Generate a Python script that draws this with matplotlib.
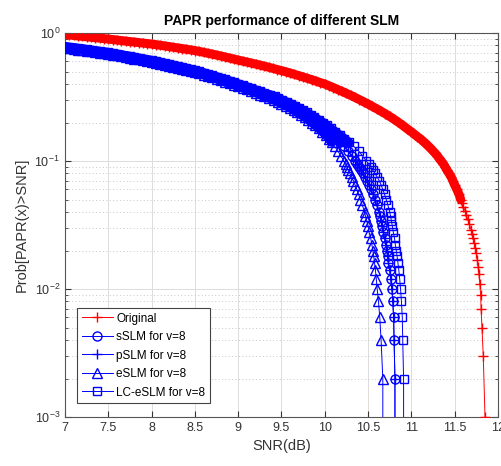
import matplotlib
matplotlib.use("Agg")
import matplotlib.pyplot as plt

plt.rcParams['font.family'] = ['Liberation Sans', 'DejaVu Sans']
plt.rcParams['mathtext.default'] = 'regular'

# CCDF curves (SNR in dB, probability)
# upper part of each curve is read at fixed SNR steps, the steep tail at fixed probabilities
red_grid = [7.0, 7.05, 7.1, 7.15, 7.2, 7.25, 7.3, 7.35, 7.4, 7.45,
            7.5, 7.55, 7.6, 7.65, 7.7, 7.75, 7.8, 7.85, 7.9, 7.95,
            8.0, 8.05, 8.1, 8.15, 8.2, 8.25, 8.3, 8.35, 8.4, 8.45,
            8.5, 8.55, 8.6, 8.65, 8.7, 8.75, 8.8, 8.85, 8.9, 8.95,
            9.0, 9.05, 9.1, 9.15, 9.2, 9.25, 9.3, 9.35, 9.4, 9.45,
            9.5, 9.55, 9.6, 9.65, 9.7, 9.75, 9.8, 9.85, 9.9, 9.95,
            10.0, 10.05, 10.1, 10.15, 10.2, 10.25, 10.3, 10.35, 10.4, 10.45,
            10.5, 10.55, 10.6, 10.65, 10.7, 10.75, 10.8, 10.85, 10.9, 10.95,
            11.0]
orig_head_p = [0.973, 0.966, 0.958, 0.950, 0.943, 0.935, 0.928, 0.920, 0.913, 0.905,
               0.898, 0.890, 0.882, 0.874, 0.866, 0.858, 0.851, 0.843, 0.836, 0.828,
               0.821, 0.812, 0.803, 0.794, 0.785, 0.775, 0.766, 0.757, 0.748, 0.739,
               0.730, 0.719, 0.708, 0.696, 0.685, 0.673, 0.662, 0.650, 0.638, 0.626,
               0.615, 0.604, 0.594, 0.583, 0.573, 0.562, 0.552, 0.541, 0.530, 0.519,
               0.509, 0.498, 0.487, 0.476, 0.465, 0.454, 0.443, 0.432, 0.421, 0.410,
               0.400, 0.387, 0.375, 0.362, 0.350, 0.338, 0.326, 0.314, 0.302, 0.290,
               0.279, 0.267, 0.256, 0.245, 0.234, 0.223, 0.212, 0.201, 0.190, 0.179,
               0.169]
orig_tail_snr = [11.02, 11.045, 11.07, 11.10, 11.125, 11.15, 11.175, 11.20, 11.225, 11.25,
                 11.275, 11.30, 11.32, 11.345, 11.37, 11.39, 11.41, 11.435, 11.46, 11.48,
                 11.50, 11.525, 11.55, 11.57, 11.585, 11.60, 11.62, 11.635, 11.65, 11.67,
                 11.69, 11.70, 11.715, 11.725, 11.74, 11.75, 11.76, 11.77, 11.78, 11.79,
                 11.80, 11.805, 11.815, 11.83, 11.85]
orig_tail_p = [0.165, 0.160, 0.155, 0.150, 0.145, 0.140, 0.135, 0.130, 0.125, 0.120,
               0.115, 0.110, 0.105, 0.100, 0.095, 0.090, 0.085, 0.080, 0.075, 0.070,
               0.065, 0.060, 0.055, 0.050, 0.047, 0.044, 0.041, 0.038, 0.035, 0.032,
               0.029, 0.027, 0.025, 0.023, 0.021, 0.019, 0.017, 0.015, 0.013, 0.011,
               0.009, 0.007, 0.005, 0.003, 0.001]

blue_grid = [7.0, 7.05, 7.1, 7.15, 7.2, 7.25, 7.3, 7.35, 7.4, 7.45,
             7.5, 7.55, 7.6, 7.65, 7.7, 7.75, 7.8, 7.85, 7.9, 7.95,
             8.0, 8.05, 8.1, 8.15, 8.2, 8.25, 8.3, 8.35, 8.4, 8.45,
             8.5, 8.55, 8.6, 8.65, 8.7, 8.75, 8.8, 8.85, 8.9, 8.95,
             9.0, 9.05, 9.1, 9.15, 9.2, 9.25, 9.3]

sslm_head_p = [0.777, 0.769, 0.761, 0.753, 0.745, 0.737, 0.729, 0.721, 0.713, 0.705,
               0.698, 0.688, 0.679, 0.669, 0.660, 0.650, 0.641, 0.631, 0.622, 0.613,
               0.604, 0.594, 0.584, 0.574, 0.564, 0.554, 0.544, 0.534, 0.524, 0.514,
               0.505, 0.494, 0.483, 0.471, 0.460, 0.448, 0.437, 0.426, 0.415, 0.404,
               0.393, 0.382, 0.372, 0.361, 0.351, 0.340, 0.330]
sslm_tail_snr = [9.37, 9.415, 9.46, 9.505, 9.55, 9.595, 9.64, 9.685, 9.73, 9.775,
                 9.82, 9.865, 9.91, 9.955, 10.00, 10.045, 10.09, 10.135, 10.18, 10.225,
                 10.27, 10.31, 10.35, 10.375, 10.40, 10.42, 10.44, 10.465, 10.49, 10.51,
                 10.535, 10.555, 10.58, 10.60, 10.625, 10.635, 10.65, 10.66, 10.675, 10.69,
                 10.705, 10.715, 10.725, 10.735, 10.75, 10.76, 10.775, 10.785, 10.795, 10.80,
                 10.81, 10.81]
sslm_tail_p = [0.32, 0.31, 0.30, 0.29, 0.28, 0.27, 0.26, 0.25, 0.24, 0.23,
               0.22, 0.21, 0.20, 0.19, 0.18, 0.17, 0.16, 0.15, 0.14, 0.13,
               0.12, 0.11, 0.10, 0.095, 0.09, 0.085, 0.08, 0.075, 0.07, 0.065,
               0.06, 0.055, 0.05, 0.045, 0.04, 0.037, 0.034, 0.031, 0.028, 0.025,
               0.022, 0.020, 0.018, 0.016, 0.014, 0.012, 0.010, 0.008, 0.006, 0.004,
               0.002, 0.0001]

eslm_head_p = [0.768, 0.760, 0.752, 0.744, 0.736, 0.728, 0.720, 0.712, 0.704, 0.696,
               0.689, 0.679, 0.670, 0.660, 0.651, 0.641, 0.632, 0.622, 0.613, 0.604,
               0.595, 0.585, 0.575, 0.565, 0.555, 0.545, 0.535, 0.525, 0.515, 0.505,
               0.496, 0.485, 0.474, 0.462, 0.451, 0.439, 0.428, 0.417, 0.406, 0.395,
               0.384, 0.373, 0.363, 0.352, 0.342, 0.331, 0.321]
eslm_tail_snr = [9.355, 9.41, 9.455, 9.50, 9.55, 9.60, 9.64, 9.68, 9.725, 9.77,
                 9.81, 9.85, 9.89, 9.93, 9.97, 10.01, 10.045, 10.08, 10.115, 10.15,
                 10.185, 10.22, 10.24, 10.255, 10.27, 10.29, 10.31, 10.33, 10.35, 10.37,
                 10.39, 10.41, 10.435, 10.46, 10.47, 10.485, 10.50, 10.51, 10.53, 10.545,
                 10.555, 10.565, 10.575, 10.585, 10.595, 10.605, 10.62, 10.635, 10.65, 10.67,
                 10.67]
eslm_tail_p = [0.31, 0.30, 0.29, 0.28, 0.27, 0.26, 0.25, 0.24, 0.23, 0.22,
               0.21, 0.20, 0.19, 0.18, 0.17, 0.16, 0.15, 0.14, 0.13, 0.12,
               0.11, 0.10, 0.095, 0.09, 0.085, 0.08, 0.075, 0.07, 0.065, 0.06,
               0.055, 0.05, 0.045, 0.04, 0.037, 0.034, 0.031, 0.028, 0.025, 0.022,
               0.020, 0.018, 0.016, 0.014, 0.012, 0.010, 0.008, 0.006, 0.004, 0.002,
               0.0001]

lc_head_p = [0.785, 0.777, 0.769, 0.761, 0.753, 0.745, 0.737, 0.729, 0.721, 0.713,
             0.706, 0.696, 0.687, 0.677, 0.668, 0.658, 0.649, 0.639, 0.630, 0.621,
             0.612, 0.602, 0.592, 0.582, 0.572, 0.562, 0.552, 0.542, 0.532, 0.522,
             0.513, 0.502, 0.491, 0.479, 0.468, 0.457, 0.446, 0.435, 0.424, 0.413,
             0.402, 0.391, 0.381, 0.371, 0.361, 0.350, 0.340]
lc_tail_snr = [9.37, 9.42, 9.465, 9.51, 9.56, 9.61, 9.655, 9.70, 9.745, 9.79,
               9.835, 9.88, 9.93, 9.98, 10.025, 10.07, 10.12, 10.17, 10.225, 10.28,
               10.335, 10.39, 10.435, 10.48, 10.505, 10.53, 10.555, 10.58, 10.605, 10.63,
               10.65, 10.67, 10.69, 10.71, 10.73, 10.75, 10.76, 10.77, 10.78, 10.79,
               10.805, 10.815, 10.825, 10.835, 10.845, 10.855, 10.865, 10.875, 10.885, 10.895,
               10.90, 10.91, 10.91]
lc_tail_p = [0.33, 0.32, 0.31, 0.30, 0.29, 0.28, 0.27, 0.26, 0.25, 0.24,
             0.23, 0.22, 0.21, 0.20, 0.19, 0.18, 0.17, 0.16, 0.15, 0.14,
             0.13, 0.12, 0.11, 0.10, 0.095, 0.09, 0.085, 0.08, 0.075, 0.07,
             0.065, 0.06, 0.055, 0.05, 0.045, 0.04, 0.037, 0.034, 0.031, 0.028,
             0.025, 0.022, 0.020, 0.018, 0.016, 0.014, 0.012, 0.010, 0.008, 0.006,
             0.004, 0.002, 0.0001]

orig_snr = red_grid + orig_tail_snr
orig_p = orig_head_p + orig_tail_p
sslm_snr = blue_grid + sslm_tail_snr
sslm_p = sslm_head_p + sslm_tail_p
# pSLM lies exactly on top of sSLM in the figure
pslm_snr = list(sslm_snr)
pslm_p = list(sslm_p)
eslm_snr = blue_grid + eslm_tail_snr
eslm_p = eslm_head_p + eslm_tail_p
lc_snr = blue_grid + lc_tail_snr
lc_p = lc_head_p + lc_tail_p

x_ticks = [7, 7.5, 8, 8.5, 9, 9.5, 10, 10.5, 11, 11.5, 12]
x_labels = ['7', '7.5', '8', '8.5', '9', '9.5', '10', '10.5', '11', '11.5', '12']

fig = plt.figure(figsize=(5.02, 4.66), dpi=100)
ax = fig.add_axes([0.1295, 0.105, 0.8625, 0.824])


def band(snr, p, pmin, color):
    # where the original markers sit so close they merge into a solid band
    xs = [s for s, q in zip(snr, p) if q >= pmin]
    ys = [q for q in p if q >= pmin]
    ax.semilogy(xs, ys, '-', color=color, lw=6.5, solid_capstyle='round', zorder=2)


band(orig_snr, orig_p, 0.05, 'red')
band(sslm_snr, sslm_p, 0.14, 'blue')
band(eslm_snr, eslm_p, 0.14, 'blue')
band(lc_snr, lc_p, 0.14, 'blue')

ms = 6.5
kw = dict(lw=0.7, ms=ms, mew=1.0, zorder=3)
ax.semilogy(orig_snr, orig_p, '-', color='red', marker='+', label='Original', **kw)
ax.semilogy(sslm_snr, sslm_p, '-', color='blue', marker='o', mfc='none',
            label='sSLM for v=8', **kw)
ax.semilogy(pslm_snr, pslm_p, '-', color='blue', marker='+', label='pSLM for v=8', **kw)
ax.semilogy(eslm_snr, eslm_p, '-', color='blue', marker='^', mfc='none',
            label='eSLM for v=8', **kw)
ax.semilogy(lc_snr, lc_p, '-', color='blue', marker='s', mfc='none',
            label='LC-eSLM for v=8', lw=0.7, ms=ms - 0.5, mew=1.0, zorder=3)

ax.set_xlim(7, 12)
ax.set_ylim(1e-3, 1)
ax.set_xticks(x_ticks)
ax.set_xticklabels(x_labels)

ax.grid(True, which='major', color='#dcdcdc', lw=0.7, ls='-')
ax.grid(True, which='minor', axis='y', color='#c8c8c8', lw=0.7, ls=(0, (1, 2.5)))
ax.set_axisbelow(True)

ax.tick_params(which='both', direction='in', top=True, right=True,
               labelsize=9, colors='#333333')
ax.tick_params(which='major', length=4)
ax.tick_params(which='minor', length=2)
for s in ax.spines.values():
    s.set_color('#555555')
    s.set_linewidth(0.8)

ax.set_title('PAPR performance of different SLM', fontsize=10, fontweight='bold', pad=6)
ax.set_xlabel('SNR(dB)', fontsize=10.5, color='#333333', labelpad=4)
ax.set_ylabel('Prob[PAPR(x)>SNR]', fontsize=10.5, color='#333333', labelpad=4)

leg = ax.legend(loc='lower left', bbox_to_anchor=(0.028, 0.036), borderaxespad=0,
                fontsize=8.5, fancybox=False, framealpha=1, edgecolor='#444444',
                handlelength=2.6, labelspacing=0.55, borderpad=0.4, handletextpad=0.3)
leg.get_frame().set_linewidth(0.8)

fig.savefig('out.png', dpi=100)
